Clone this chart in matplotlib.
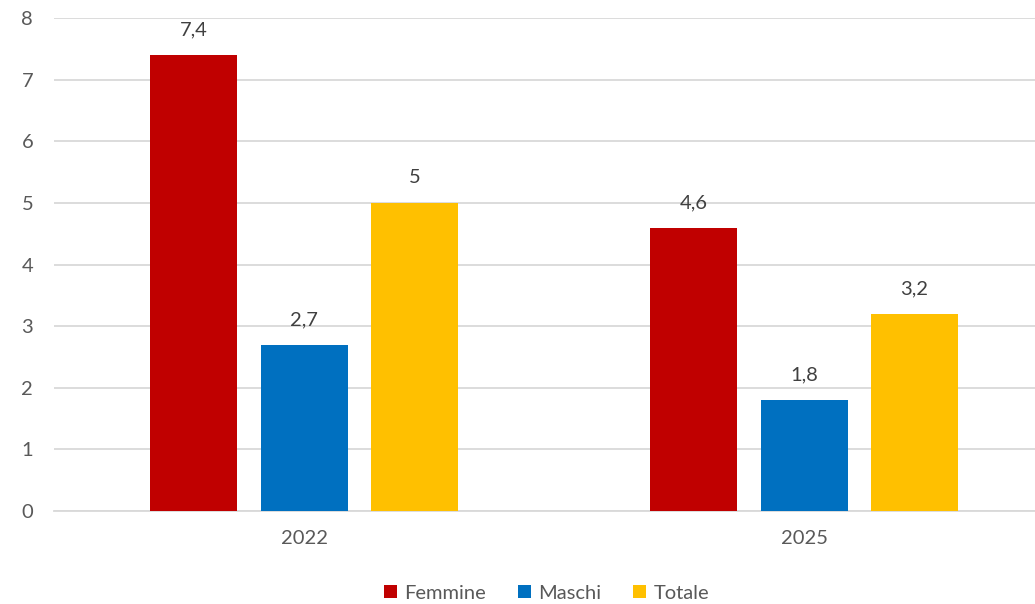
import matplotlib.pyplot as plt
import numpy as np

plt.rcParams['font.family'] = ['Lato', 'DejaVu Sans']

anni = ['2022', '2025']
serie = ['Femmine', 'Maschi', 'Totale']
femmine = [7.4, 4.6]
maschi = [2.7, 1.8]
totale = [5.0, 3.2]
colori = ['#c00000', '#0070c0', '#ffc000']

fig = plt.figure(figsize=(10.35, 6.04), dpi=100)
ax = fig.add_axes([54 / 1035, 1 - 511 / 604, 1 - 54 / 1035, (511 - 18) / 604])

x = np.arange(len(anni))
w = 0.174
step = 0.221
testo = '#595959'

for k, (nome, vals) in enumerate(zip(serie, [femmine, maschi, totale])):
    bars = ax.bar(x + (k - 1) * step, vals, w, color=colori[k], label=nome, zorder=3)
    for b, v in zip(bars, vals):
        lab = ('%g' % v).replace('.', ',')
        ax.annotate(lab, (b.get_x() + b.get_width() / 2, v), xytext=(0, 18),
                    textcoords='offset points', ha='center', va='center',
                    fontsize=14.5, color='#404040')

ax.set_xlim(-0.5, 1.462)
ax.set_ylim(0, 8)
ax.set_yticks(range(0, 9))
ax.set_xticks(x)
ax.set_xticklabels(anni)
ax.grid(axis='y', color='#d9d9d9', linewidth=1.3, zorder=0)
for s in ['top', 'right', 'left']:
    ax.spines[s].set_visible(False)
ax.spines['bottom'].set_color('#d9d9d9')
ax.spines['bottom'].set_linewidth(1.3)
ax.tick_params(axis='both', length=0, labelsize=14.5, colors=testo)
ax.tick_params(axis='y', pad=15)
ax.tick_params(axis='x', pad=14)

leg = ax.legend(loc='lower center', bbox_to_anchor=(0.502, -0.2), ncol=3, frameon=False,
                fontsize=14.5, handlelength=0.65, handleheight=0.65, handletextpad=0.35,
                columnspacing=1.6, borderaxespad=0)
for t in leg.get_texts():
    t.set_color(testo)

fig.savefig('out.png', dpi=100)
